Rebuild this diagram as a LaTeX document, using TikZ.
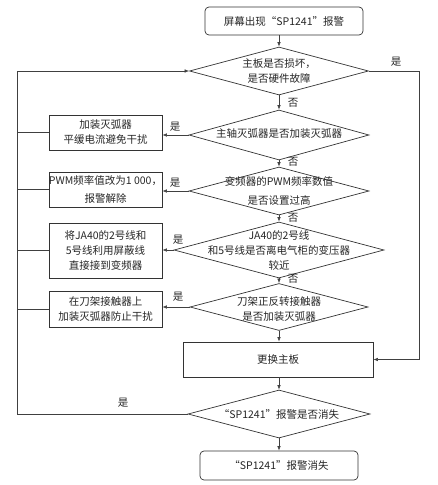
\documentclass[tikz,border=0pt]{standalone}
\usepackage{fontspec}
\setmainfont{Noto Sans CJK SC}
\usetikzlibrary{shapes.geometric,arrows.meta,calc}
\newcommand\myfs{\fontsize{10.5}{15}\selectfont}
\begin{document}
\begin{tikzpicture}[x=1pt,y=-1pt,
  line/.style={draw=black!75, line width=0.6pt},
  arr/.style={line, -{Latex[length=4.5pt,width=3.5pt]}},
  proc/.style={draw=black!80, line width=0.7pt, rectangle, inner sep=0pt, align=center, font=\myfs, text=black!85},
  term/.style={proc, rounded corners=4pt},
  dia/.style={draw=black!80, line width=0.7pt, diamond, inner sep=0pt},
  txt/.style={align=center, font=\myfs, inner sep=0pt, text=black!85},
  lab/.style={font=\myfs, inner sep=0pt, text=black!85}]
\useasboundingbox (0,0) rectangle (438,485);
\fill[white] (0,0) rectangle (438,485);

% main column
\node[term, minimum width=158pt, minimum height=28pt] (start) at (284,21) {屏幕出现“SP1241”报警};
\node[dia, minimum width=179pt, minimum height=48pt] (d1) at (279,71) {};
\node[txt] (t1) at (279,71) {主板是否损坏，\\是否硬件故障};
\node[dia, minimum width=180pt, minimum height=50pt] (d2) at (279,135) {};
\node[txt] (t2) at (279,133.5) {主轴灭弧器是否加装灭弧器};
\node[dia, minimum width=180pt, minimum height=48pt] (d3) at (279,191) {};
\node[txt] (t3) at (279,191) {变频器的PWM频率数值\\[4pt]是否设置过高};
\node[dia, minimum width=210pt, minimum height=56pt] (d4) at (279,250) {};
\node[txt] (t4) at (279,250) {JA40的2号线\\和5号线是否离电气柜的变压器\\较近};
\node[dia, minimum width=178pt, minimum height=47pt] (d5) at (279,307) {};
\node[txt] (t5) at (279,309) {刀架正反转接触器\\是否加装灭弧器};
\node[proc, minimum width=190pt, minimum height=35pt] (repl) at (278,359.5) {更换主板};
\node[dia, minimum width=182pt, minimum height=48pt] (d6) at (279,414) {};
\node[txt] (t6) at (279,414) {“SP1241”报警是否消失};
\node[term, minimum width=158pt, minimum height=29pt] (end) at (279,465.5) {“SP1241”报警消失};

% side boxes
\node[proc, minimum width=113pt, minimum height=35pt] (b1) at (105.5,132.5) {加装灭弧器\\平缓电流避免干扰};
\node[proc, minimum width=113pt, minimum height=35pt] (b2) at (105.5,189.5) {PWM频率值改为1 000，\\[3pt]报警解除};
\node[proc, minimum width=113pt, minimum height=55pt] (b3) at (105.5,250.5) {将JA40的2号线和\\5号线利用屏蔽线\\直接接到变频器};
\node[proc, minimum width=113pt, minimum height=36pt] (b4) at (105.5,309) {在刀架接触器上\\加装灭弧器防止干扰};

\coordinate (lx) at (17,0);
\coordinate (rx) at (419,0);

% vertical flow
\draw[arr] (start.south -| d1.north) -- (d1.north);
\draw[arr] (d1.south) -- (d2.north);
\draw[arr] (d2.south) -- (d3.north);
\draw[arr] (d3.south) -- (d4.north);
\draw[arr] (d4.south) -- (d5.north);
\draw[arr] (d5.south) -- (d5.south |- repl.north);
\draw[arr] (repl.south -| d6.north) -- (d6.north);
\draw[arr] (d6.south) -- (end.north -| d6.south);

% yes branches
\draw[arr] (d2.west) -- (d2.west -| b1.east);
\draw[arr] (d3.west) -- (d3.west -| b2.east);
\draw[arr] (d4.west) -- (d4.west -| b3.east);
\draw[arr] (d5.west) -- (d5.west -| b4.east);

% boxes to left return line
\draw[line] (b1.west) -- (b1.west -| lx);
\draw[line] (b2.west) -- (b2.west -| lx);
\draw[line] (b3.west) -- (b3.west -| lx);
\draw[line] (b4.west) -- (b4.west -| lx);

% left loop
\draw[arr] (d6.west) -- (d6.west -| lx) -- (d1.west -| lx) -- (d1.west);

% right loop
\draw[arr] (d1.east) -- (d1.east -| rx) |- (repl.east);

% labels
\node[lab] (y1) at (396,62) {是};
\node[lab] (n1) at (293,103) {否};
\node[lab] (y2) at (175,127) {是};
\node[lab] (n2) at (293,162) {否};
\node[lab] (y3) at (175,183) {是};
\node[lab] (n3) at (293,218) {否};
\node[lab] (y4) at (178,240) {是};
\node[lab] (n4) at (293,279) {否};
\node[lab] (y5) at (178,297) {是};
\node[lab] (y6) at (123,403) {是};
\end{tikzpicture}
\end{document}
